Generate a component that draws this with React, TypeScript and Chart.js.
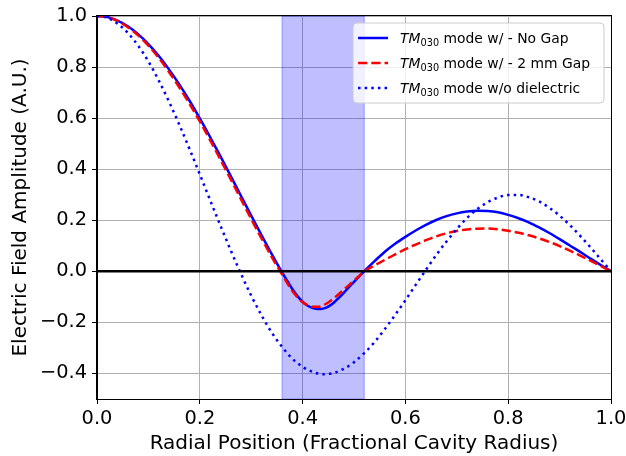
import React, { useEffect, useRef } from "react";
import { Chart, registerables } from "chart.js";

Chart.register(...registerables);

// Radial positions (fractional cavity radius) for the dielectric-loaded curves
const RADII = [
  0, 0.02, 0.04, 0.06, 0.08, 0.1, 0.12, 0.14, 0.16, 0.18, 0.2, 0.22, 0.24, 0.26, 0.28, 0.3, 0.32, 0.34, 0.36,
  0.37, 0.38, 0.39, 0.4, 0.41, 0.42, 0.43, 0.44, 0.45, 0.46, 0.47, 0.48, 0.49, 0.5, 0.51, 0.52,
  0.54, 0.56, 0.58, 0.6, 0.62, 0.64, 0.66, 0.68, 0.7, 0.72, 0.74, 0.76, 0.78, 0.8, 0.82, 0.84, 0.86, 0.88, 0.9,
  0.92, 0.94, 0.96, 0.98, 1.0,
];

const NO_GAP = [
  1.0, 0.996, 0.982, 0.96, 0.929, 0.89, 0.844, 0.791, 0.732, 0.668, 0.599, 0.526, 0.451, 0.374, 0.296, 0.218, 0.142, 0.067, -0.004,
  -0.037, -0.069, -0.097, -0.119, -0.135, -0.144, -0.148, -0.146, -0.138, -0.124, -0.105, -0.084, -0.062, -0.041, -0.02, 0.001,
  0.04, 0.077, 0.108, 0.135, 0.16, 0.182, 0.201, 0.216, 0.227, 0.234, 0.237, 0.236, 0.231, 0.221, 0.208, 0.192, 0.172, 0.15, 0.126,
  0.101, 0.076, 0.05, 0.025, 0.0,
];

const GAP_2MM = [
  1.0, 0.995, 0.98, 0.956, 0.924, 0.884, 0.836, 0.781, 0.721, 0.656, 0.587, 0.514, 0.438, 0.361, 0.283, 0.205, 0.129, 0.056, -0.012,
  -0.046, -0.077, -0.102, -0.121, -0.133, -0.139, -0.139, -0.133, -0.122, -0.107, -0.09, -0.072, -0.054, -0.036, -0.018, 0.0,
  0.023, 0.045, 0.066, 0.087, 0.105, 0.122, 0.137, 0.149, 0.158, 0.164, 0.167, 0.168, 0.165, 0.159, 0.151, 0.141, 0.129, 0.115, 0.099,
  0.081, 0.062, 0.042, 0.021, 0.0,
];

// Radial positions for the empty-cavity curve
const RADII_EMPTY = [
  0, 0.02, 0.04, 0.06, 0.08, 0.1, 0.12, 0.14, 0.16, 0.18, 0.2, 0.22, 0.24, 0.26, 0.28, 0.3, 0.32, 0.34, 0.36, 0.38,
  0.4, 0.42, 0.44, 0.46, 0.48, 0.5, 0.52, 0.54, 0.56, 0.58, 0.6, 0.62, 0.64, 0.66, 0.68, 0.7, 0.72, 0.74, 0.76, 0.78,
  0.8, 0.82, 0.84, 0.86, 0.88, 0.9, 0.92, 0.94, 0.96, 0.98, 1.0,
];

const NO_DIELECTRIC = [
  1.0, 0.993, 0.97, 0.934, 0.884, 0.822, 0.748, 0.665, 0.575, 0.479, 0.38, 0.279, 0.18, 0.083, -0.009, -0.095, -0.172, -0.24, -0.296, -0.342,
  -0.374, -0.394, -0.403, -0.398, -0.382, -0.356, -0.32, -0.277, -0.226, -0.171, -0.113, -0.053, 0.006, 0.064, 0.117, 0.166, 0.209, 0.244, 0.271, 0.289,
  0.299, 0.299, 0.29, 0.274, 0.249, 0.218, 0.181, 0.139, 0.094, 0.047, 0.0,
];

const ZERO_X = [0, 1];
const ZERO_Y = [0, 0];

const DIELECTRIC_SPAN = [0.36, 0.52];

const X_TICKS = [0, 0.2, 0.4, 0.6, 0.8, 1.0];
const Y_TICKS = [-0.4, -0.2, 0, 0.2, 0.4, 0.6, 0.8, 1.0];

const LEGEND_MODE = ["TM", "TM", "TM"];
const LEGEND_SUB = ["030", "030", "030"];
const LEGEND_REST = [" mode w/ - No Gap", " mode w/ - 2 mm Gap", " mode w/o dielectric"];

const X_TITLE = "Radial Position (Fractional Cavity Radius)";
const Y_TITLE = "Electric Field Amplitude (A.U.)";

const FONT = '"DejaVu Sans", sans-serif';

const toPoints = (xs: number[], ys: number[]) => xs.map((x, i) => ({ x, y: ys[i] }));

const spanPlugin = {
  id: "dielectricSpan",
  beforeDatasetsDraw(chart: any) {
    const { ctx, chartArea, scales } = chart;
    const x0 = scales.x.getPixelForValue(DIELECTRIC_SPAN[0]);
    const x1 = scales.x.getPixelForValue(DIELECTRIC_SPAN[1]);
    ctx.save();
    ctx.fillStyle = "rgba(0,0,255,0.25)";
    ctx.fillRect(x0, chartArea.top, x1 - x0, chartArea.bottom - chartArea.top);
    ctx.strokeStyle = "rgba(0,0,255,0.25)";
    ctx.lineWidth = 1.3;
    ctx.strokeRect(x0, chartArea.top, x1 - x0, chartArea.bottom - chartArea.top);
    ctx.restore();
  },
};

const framePlugin = {
  id: "frame",
  afterDatasetsDraw(chart: any) {
    const { ctx, chartArea } = chart;
    ctx.save();
    ctx.strokeStyle = "#000";
    ctx.lineWidth = 1;
    const l = Math.round(chartArea.left) - 0.5;
    const t = Math.round(chartArea.top) - 0.5;
    const r = Math.round(chartArea.right) + 0.5;
    const b = Math.round(chartArea.bottom) + 0.5;
    ctx.strokeRect(l, t, r - l, b - t);
    ctx.restore();
  },
};

const legendPlugin = {
  id: "mathLegend",
  afterDraw(chart: any) {
    const { ctx, chartArea } = chart;
    const fs = 13.9;
    const subFs = fs * 0.7;
    const items = chart.data.datasets
      .filter((d: any) => d.legendIndex !== undefined)
      .slice()
      .sort((a: any, b: any) => a.legendIndex - b.legendIndex);
    ctx.save();
    const widths = items.map((d: any) => {
      const i = d.legendIndex;
      ctx.font = `italic ${fs}px ${FONT}`;
      const a = ctx.measureText(LEGEND_MODE[i]).width;
      ctx.font = `${subFs}px ${FONT}`;
      const b = ctx.measureText(LEGEND_SUB[i]).width;
      ctx.font = `${fs}px ${FONT}`;
      const c = ctx.measureText(LEGEND_REST[i]).width;
      return a + b + c;
    });
    const maxW = Math.max(...widths);
    const w = 5 + 30 + 12 + maxW + 14;
    const h = 80;
    const right = chartArea.right - 7;
    const left = right - w;
    const top = chartArea.top + 7;
    const rad = 4;
    ctx.beginPath();
    ctx.moveTo(left + rad, top);
    ctx.lineTo(right - rad, top);
    ctx.quadraticCurveTo(right, top, right, top + rad);
    ctx.lineTo(right, top + h - rad);
    ctx.quadraticCurveTo(right, top + h, right - rad, top + h);
    ctx.lineTo(left + rad, top + h);
    ctx.quadraticCurveTo(left, top + h, left, top + h - rad);
    ctx.lineTo(left, top + rad);
    ctx.quadraticCurveTo(left, top, left + rad, top);
    ctx.closePath();
    ctx.fillStyle = "rgba(255,255,255,0.8)";
    ctx.fill();
    ctx.strokeStyle = "#cccccc";
    ctx.lineWidth = 1;
    ctx.stroke();

    items.forEach((d: any, k: number) => {
      const i = d.legendIndex;
      const y = top + 15 + k * 25;
      ctx.save();
      ctx.strokeStyle = d.borderColor;
      ctx.lineWidth = d.borderWidth;
      ctx.setLineDash(d.borderDash || []);
      ctx.lineCap = "butt";
      ctx.beginPath();
      ctx.moveTo(left + 5, y);
      ctx.lineTo(left + 35, y);
      ctx.stroke();
      ctx.restore();

      ctx.fillStyle = "#000";
      ctx.textBaseline = "alphabetic";
      ctx.textAlign = "left";
      let x = left + 47;
      const base = y + fs * 0.36;
      ctx.font = `italic ${fs}px ${FONT}`;
      ctx.fillText(LEGEND_MODE[i], x, base);
      x += ctx.measureText(LEGEND_MODE[i]).width;
      ctx.font = `${subFs}px ${FONT}`;
      ctx.fillText(LEGEND_SUB[i], x, base + fs * 0.2);
      x += ctx.measureText(LEGEND_SUB[i]).width;
      ctx.font = `${fs}px ${FONT}`;
      ctx.fillText(LEGEND_REST[i], x, base);
    });
    ctx.restore();
  },
};

export default function App() {
  const canvasRef = useRef<HTMLCanvasElement | null>(null);

  useEffect(() => {
    document.body.style.margin = "0";
    const canvas = canvasRef.current;
    if (!canvas) return;
    const lw = 2.5;
    const chart = new Chart(canvas, {
      type: "line",
      data: {
        datasets: [
          {
            label: "zero",
            data: toPoints(ZERO_X, ZERO_Y),
            borderColor: "#000",
            borderWidth: 2.5,
            pointRadius: 0,
            order: 1,
          } as any,
          {
            label: "TM030 mode w/o dielectric",
            legendIndex: 2,
            data: toPoints(RADII_EMPTY, NO_DIELECTRIC),
            borderColor: "#0000ff",
            borderWidth: lw,
            borderDash: [lw, lw * 1.65],
            borderCapStyle: "butt",
            pointRadius: 0,
            cubicInterpolationMode: "monotone",
            order: 2,
          } as any,
          {
            label: "TM030 mode w/ - 2 mm Gap",
            legendIndex: 1,
            data: toPoints(RADII, GAP_2MM),
            borderColor: "#ff0000",
            borderWidth: lw,
            borderDash: [lw * 3.7, lw * 1.6],
            borderCapStyle: "butt",
            pointRadius: 0,
            cubicInterpolationMode: "monotone",
            order: 3,
          } as any,
          {
            label: "TM030 mode w/ - No Gap",
            legendIndex: 0,
            data: toPoints(RADII, NO_GAP),
            borderColor: "#0000ff",
            borderWidth: lw,
            pointRadius: 0,
            cubicInterpolationMode: "monotone",
            order: 4,
          } as any,
        ],
      },
      options: {
        animation: false,
        responsive: false,
        maintainAspectRatio: false,
        layout: { padding: { top: 16, right: 15, left: 0, bottom: 0 } },
        plugins: {
          legend: { display: false },
          tooltip: { enabled: false },
        },
        scales: {
          x: {
            type: "linear",
            min: 0,
            max: 1,
            afterBuildTicks: (scale: any) => {
              scale.ticks = X_TICKS.map((v) => ({ value: v }));
            },
            afterFit: (scale: any) => {
              scale.height = 57;
              scale.paddingLeft = 0;
              scale.paddingRight = 0;
            },
            ticks: {
              callback: (v: any) => Number(v).toFixed(1),
              color: "#000",
              font: { family: FONT, size: 19.4 },
              padding: 3,
              maxRotation: 0,
              autoSkip: false,
            },
            grid: { color: "#b0b0b0", lineWidth: 1, tickLength: 5, tickColor: "#000", drawTicks: true },
            border: { color: "#000", width: 1 },
            title: {
              display: true,
              text: X_TITLE,
              color: "#000",
              font: { family: FONT, size: 20 },
              padding: { top: 0, bottom: 0 },
            },
          },
          y: {
            type: "linear",
            min: -0.5,
            max: 1.0,
            afterBuildTicks: (scale: any) => {
              scale.ticks = Y_TICKS.map((v) => ({ value: v }));
            },
            afterFit: (scale: any) => {
              scale.width = 97;
              scale.paddingTop = 0;
              scale.paddingBottom = 0;
            },
            ticks: {
              callback: (v: any) => {
                const n = Number(v);
                return n < 0 ? "\u2212" + Math.abs(n).toFixed(1) : n.toFixed(1);
              },
              color: "#000",
              font: { family: FONT, size: 19.4 },
              padding: 5,
              autoSkip: false,
            },
            grid: { color: "#b0b0b0", lineWidth: 1, tickLength: 5, tickColor: "#000", drawTicks: true },
            border: { color: "#000", width: 1 },
            title: {
              display: true,
              text: Y_TITLE,
              color: "#000",
              font: { family: FONT, size: 20 },
              padding: { top: 9, bottom: 0 },
            },
          },
        },
      },
      plugins: [spanPlugin, framePlugin, legendPlugin],
    });
    return () => chart.destroy();
  }, []);

  return (
    <div style={{ width: 626, height: 456 }}>
      <canvas ref={canvasRef} width={626} height={456} style={{ width: 626, height: 456, display: "block" }} />
    </div>
  );
}
